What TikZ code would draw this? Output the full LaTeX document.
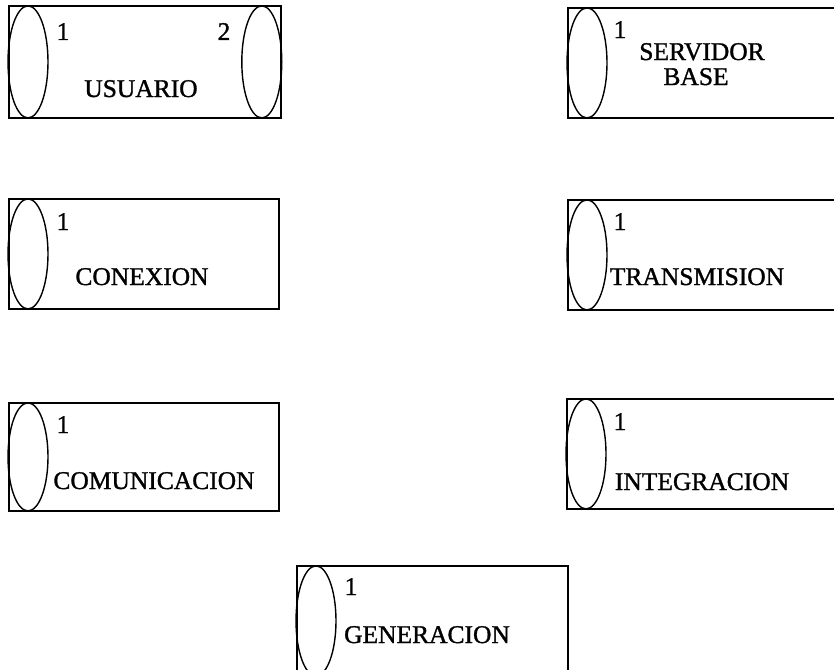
\documentclass[tikz,border=0pt]{standalone}
\usepackage{fontspec}
\setmainfont{Liberation Serif}
\newfontfamily\letra[FakeBold=1.2]{Liberation Serif}
\usepackage{tikz}
\usetikzlibrary{positioning}
\tikzset{modulo/.style={draw, line width=1.8pt, anchor=north west, inner sep=0pt,
            minimum width=270pt, minimum height=110pt},
         puerto/.style={draw, line width=1.4pt},
         texto/.style={anchor=base, inner sep=0pt, font=\letra\fontsize{25.5}{28}\selectfont}
}

\begin{document}
\begin{tikzpicture}[x=1pt,y=-1pt]
\useasboundingbox (0,0) rectangle (834,669);
\clip (0,0) rectangle (834,669);
% modulos
\node[modulo, minimum width=272pt, minimum height=112pt] (usuario) at (8,5) {};
\node[modulo, minimum width=269pt] (servidor) at (567,7) {};
\node[modulo] (conexion) at (8,198) {};
\node[modulo, minimum width=269pt] (transmision) at (567,199) {};
\node[modulo, minimum height=108pt] (comunicacion) at (8,402) {};
\node[modulo, minimum width=270pt] (integracion) at (566,398) {};
\node[modulo, minimum width=271pt] (generacion) at (296,565) {};
% puertos
\draw[puerto] ([xshift=20pt]usuario.west) ellipse (20pt and 56pt);
\draw[puerto] ([xshift=-20pt]usuario.east) ellipse (20pt and 56pt);
\foreach \m in {servidor,conexion,transmision,integracion,generacion}
  \draw[puerto] ([xshift=20pt]\m.west) ellipse (20pt and 55pt);
\draw[puerto] ([xshift=20pt]comunicacion.west) ellipse (20pt and 54pt);
% textos
\node[texto] (usuario1) at (63,40) {1};
\node[texto] (usuario2) at (224,40) {2};
\node[texto] (usuarioN) at (141,97) {USUARIO};
\node[texto] (servidor1) at (620,38) {1};
\node[texto] (servidorN) at (702,60) {SERVIDOR};
\node[texto] (servidorB) at (696,85) {BASE};
\node[texto] (conexion1) at (63,230) {1};
\node[texto] (conexionN) at (142,285) {CONEXION};
\node[texto] (transmision1) at (620,230) {1};
\node[texto] (transmisionN) at (697,285) {TRANSMISION};
\node[texto] (comunicacion1) at (63,433) {1};
\node[texto] (comunicacionN) at (154,489) {COMUNICACION};
\node[texto] (integracion1) at (620,430) {1};
\node[texto] (integracionN) at (702,490) {INTEGRACION};
\node[texto] (generacion1) at (351,595) {1};
\node[texto] (generacionN) at (427,643) {GENERACION};
\end{tikzpicture}
\end{document}
